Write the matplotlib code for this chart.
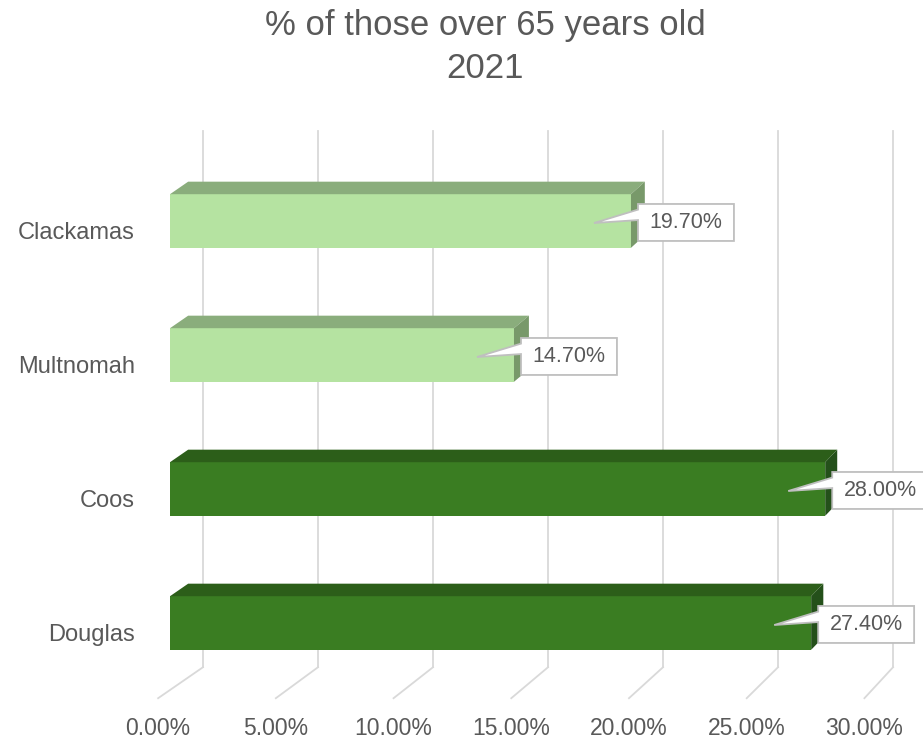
import matplotlib.pyplot as plt
from matplotlib.patches import Polygon

counties = ["Douglas", "Coos", "Multnomah", "Clackamas"]
pct_over_65 = [27.40, 28.00, 14.70, 19.70]
bar_kind = ["dark", "dark", "light", "light"]
ticks = [0, 5, 10, 15, 20, 25, 30]
tick_labels = ["0.00%", "5.00%", "10.00%", "15.00%", "20.00%", "25.00%", "30.00%"]

# front / top / side shades for the fake 3D boxes
shades = {
    "light": ("#B5E3A1", "#8AAD7C", "#78996A"),
    "dark": ("#3A7D22", "#2C5E19", "#24501A"),
}
text_col = "#595959"
grid_col = "#D9D9D9"
plt.rcParams["font.family"] = ["Liberation Sans", "DejaVu Sans"]

W, H = 923, 745
PX_X = 23.4      # pixels per percent on the bar front plane
PX_Y = 134       # pixels per category
X0, Y0 = 170, 623  # pixel of (0%, first category), from the top

# oblique projection: depth d=0 is the bar front, d=1 the back wall
DX, DY, K = 1.41, 0.17, 0.017
D_FLOOR, D_BAR = -0.36, 0.55


def proj(x, y, d):
    return x * (1 - K * d) + d * DX, y + d * DY


fig = plt.figure(figsize=(W / 100, H / 100), dpi=100)
ax = fig.add_axes([0, 0, 1, 1])
ax.set_xlim(-X0 / PX_X, (W - X0) / PX_X)
ax.set_ylim((Y0 - H) / PX_Y, Y0 / PX_Y)
ax.axis("off")

y_lo, y_hi = -0.5, len(counties) - 0.5

# back wall gridlines and floor lines
for t, lab in zip(ticks, tick_labels):
    bx, by0 = proj(t, y_lo, 1)
    _, by1 = proj(t, y_hi, 1)
    ax.plot([bx, bx], [by0, by1], color=grid_col, lw=1.3, zorder=1)
    fx, fy = proj(t, y_lo, D_FLOOR)
    ax.plot([fx, bx], [fy, by0], color=grid_col, lw=1.3, zorder=1)
    ax.text(fx, fy - 0.225, lab, ha="center", va="center", fontsize=16.5,
            color=text_col)

pos = list(range(len(counties)))
half = 0.2
fronts = [shades[k][0] for k in bar_kind]
ax.barh(pos, pct_over_65, height=2 * half, color=fronts, zorder=3)

for c, v, k in zip(pos, pct_over_65, bar_kind):
    _, top_col, side_col = shades[k]
    top = [proj(0, c + half, 0), proj(v, c + half, 0),
           proj(v, c + half, D_BAR), proj(0, c + half, D_BAR)]
    side = [proj(v, c - half, 0), proj(v, c + half, 0),
            proj(v, c + half, D_BAR), proj(v, c - half, D_BAR)]
    ax.add_patch(Polygon(top, closed=True, fc=top_col, ec="none", zorder=3))
    ax.add_patch(Polygon(side, closed=True, fc=side_col, ec="none", zorder=3))

    # callout box with a wedge pointing into the bar
    bl = v + 0.3
    br = bl + 4.1
    yt, yb = c + 0.127, c - 0.149
    callout = [(bl, yt), (br, yt), (br, yb), (bl, yb), (bl, c + 0.007),
               (v - 1.58, c - 0.015), (bl, c + 0.085)]
    ax.add_patch(Polygon(callout, closed=True, fc="white", ec="#BFBFBF",
                         lw=1.3, zorder=5, clip_on=False))
    ax.text((bl + br) / 2, (yt + yb) / 2, f"{v:.2f}%", ha="center",
            va="center", fontsize=15.5, color=text_col, zorder=6)

    ax.text(-1.5, c - 0.09, counties[c], ha="right", va="center",
            fontsize=17, color=text_col)

fig.text(485 / W, 1 - 25 / H, "% of those over 65 years old", ha="center",
         va="center", fontsize=25, color=text_col)
fig.text(485 / W, 1 - 68 / H, "2021", ha="center", va="center",
         fontsize=25, color=text_col)

fig.savefig("out.png", dpi=100)
